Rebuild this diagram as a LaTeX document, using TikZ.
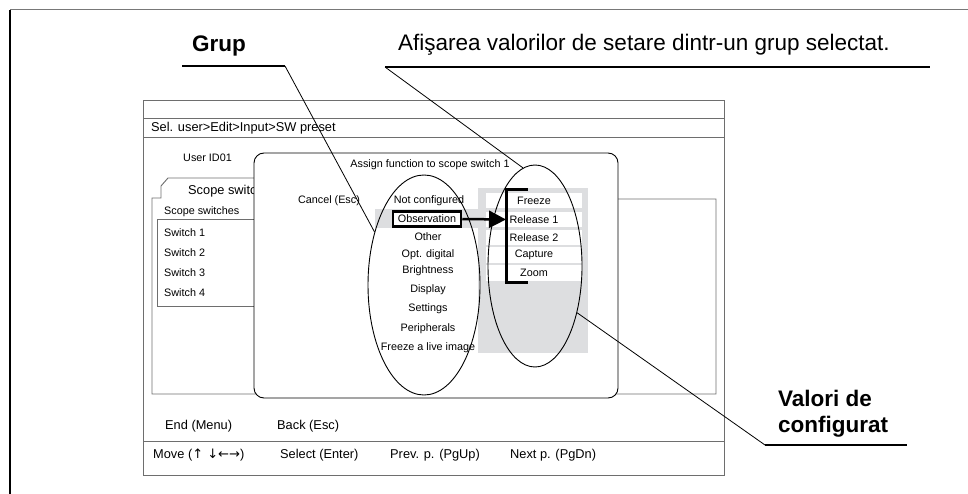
\documentclass[tikz,border=0pt]{standalone}
\usepackage{fontspec}
\setmainfont{Liberation Sans}
\newfontfamily\arrowfont{DejaVu Sans}
\usetikzlibrary{shapes.geometric, arrows.meta, positioning}
\definecolor{screengray}{RGB}{110, 110, 110}
\definecolor{listgray}{RGB}{221, 222, 224}
\definecolor{framegray}{RGB}{120, 120, 120}

\tikzset{
  small/.style={font=\fontsize{10.8}{12}\selectfont, inner sep=0pt},
  menu/.style={font=\fontsize{12.8}{14}\selectfont, inner sep=0pt},
  callout/.style={font=\fontsize{22.5}{26}\selectfont, inner sep=0pt},
  ring/.style={draw, ellipse, inner sep=0pt, line width=0.9pt},
  valbox/.style={fill=white, minimum width=96pt, minimum height=15.5pt, inner sep=0pt, font=\fontsize{10.8}{12}\selectfont},
  scr/.style={screengray, line width=0.9pt}
}

\begin{document}
\begin{tikzpicture}[x=1pt, y=-1pt]
\useasboundingbox (0,0) rectangle (968,494);
% frame of the page
\draw[framegray, line width=1pt] (10,10) -- (968,10);
\draw[line width=2pt] (10,10) -- (10,494);

% screen
\draw[scr] (143,100) rectangle (724,475);
\draw[scr] (143,118) -- (724,118);
\draw[scr] (143,137) -- (724,137);
\draw[scr] (143,441) -- (724,441);
\node[menu, anchor=west] (path) at (151,128) {Sel. user>Edit>Input>SW preset};
\node[small, anchor=west] (user) at (183,158) {User ID01};

% tab panel
\draw[scr] (300,199) -- (716,199) -- (716,394) -- (152,394) -- (152,198) -- (161,198)
  -- (161,186) -- (168,178) -- (300,178);
\node[menu, anchor=west] (tab) at (188,191) {Scope switches};
\node[small, anchor=west] (swlbl) at (164,212) {Scope switches};
\draw[scr] (300,219) -- (157,219) -- (157,306) -- (300,306);
\foreach \i/\y in {1/233, 2/253, 3/273, 4/293}
  \node[small, anchor=west] (sw\i) at (164,\y) {Switch \i};

% dialog
\draw[fill=white, line width=0.9pt, rounded corners=10pt] (254,153) rectangle (618,398);
\node[small] (title) at (430,165) {Assign function to scope switch 1};
\node[small] (cancel) at (329,201) {Cancel (Esc)};

% gray areas
\fill[listgray] (478,188) rectangle (588,353);
\fill[listgray] (375,209) rectangle (478,228);

% groups
\node[small] (g1) at (429,201) {Not configured};
\node[small, draw, line width=2.5pt, minimum width=68pt, minimum height=15pt, fill=white] (obs) at (427,219) {Observation};
\node[small] (g3) at (428,237) {Other};
\node[small] (g4) at (428,255) {Opt. digital};
\node[small] (g5) at (428,271) {Brightness};
\node[small] (g6) at (428,290) {Display};
\node[small] (g7) at (428,309) {Settings};
\node[small] (g8) at (428,329) {Peripherals};
\node[small] (g9) at (428,348) {Freeze a live image};

% values
\node[valbox] (v1) at (534,200.5) {Freeze};
\node[valbox] (v2) at (534,219.5) {Release 1};
\node[valbox] (v3) at (534,237.5) {Release 2};
\node[valbox] (v4) at (534,255) {Capture};
\node[valbox] (v5) at (534,273) {Zoom};

% bracket and arrow
\coordinate (brk) at (506,219.5);
\draw[line width=3pt] (528,190) -- (506,190) -- (506,282) -- (528,282);
\draw[line width=2.5pt, -{Triangle[length=17pt, width=17pt]}] (obs.east) -- (brk);

% rings
\node[ring, minimum width=112pt, minimum height=220pt] (grupring) at (424,285) {};
\node[ring, minimum width=94pt, minimum height=202pt] (valring) at (535,266) {};

% bottom keys
\node[menu, anchor=west] (endk) at (165,426) {End (Menu)};
\node[menu, anchor=west] (backk) at (277,426) {Back (Esc)};
\node[menu, anchor=west] (movek) at (153,455) {Move ({\arrowfont\fontsize{13}{14}\selectfont↑ ↓←→})};
\node[menu, anchor=west] (selk) at (280,455) {Select (Enter)};
\node[menu, anchor=west] (prevk) at (390,455) {Prev. p. (PgUp)};
\node[menu, anchor=west] (nextk) at (510,455) {Next p. (PgDn)};

% callouts
\node[callout, font=\fontsize{22.5}{26}\selectfont\bfseries] (grup) at (219,46) {Grup};
\coordinate (grupa) at (182,66);
\coordinate (grupb) at (285,66);
\draw[line width=2pt] (grupa) -- (grupb);
\draw[line width=0.8pt] (grupb) -- (grupring.133);

\node[callout, anchor=west] (afis) at (398,45) {Afişarea valorilor de setare dintr-un grup selectat.};
\coordinate (afisa) at (385,67);
\coordinate (afisb) at (930,67);
\draw[line width=2pt] (afisa) -- (afisb);
\draw[line width=0.8pt] (afisa) -- (valring.97);

\node[callout, font=\fontsize{22.5}{26}\selectfont\bfseries, anchor=west, align=left] (valori) at (778,414) {Valori de\\configurat};
\coordinate (vala) at (765,445);
\coordinate (valb) at (907,445);
\draw[line width=2pt] (vala) -- (valb);
\draw[line width=0.8pt] (vala) -- (valring.312);
\end{tikzpicture}
\end{document}
